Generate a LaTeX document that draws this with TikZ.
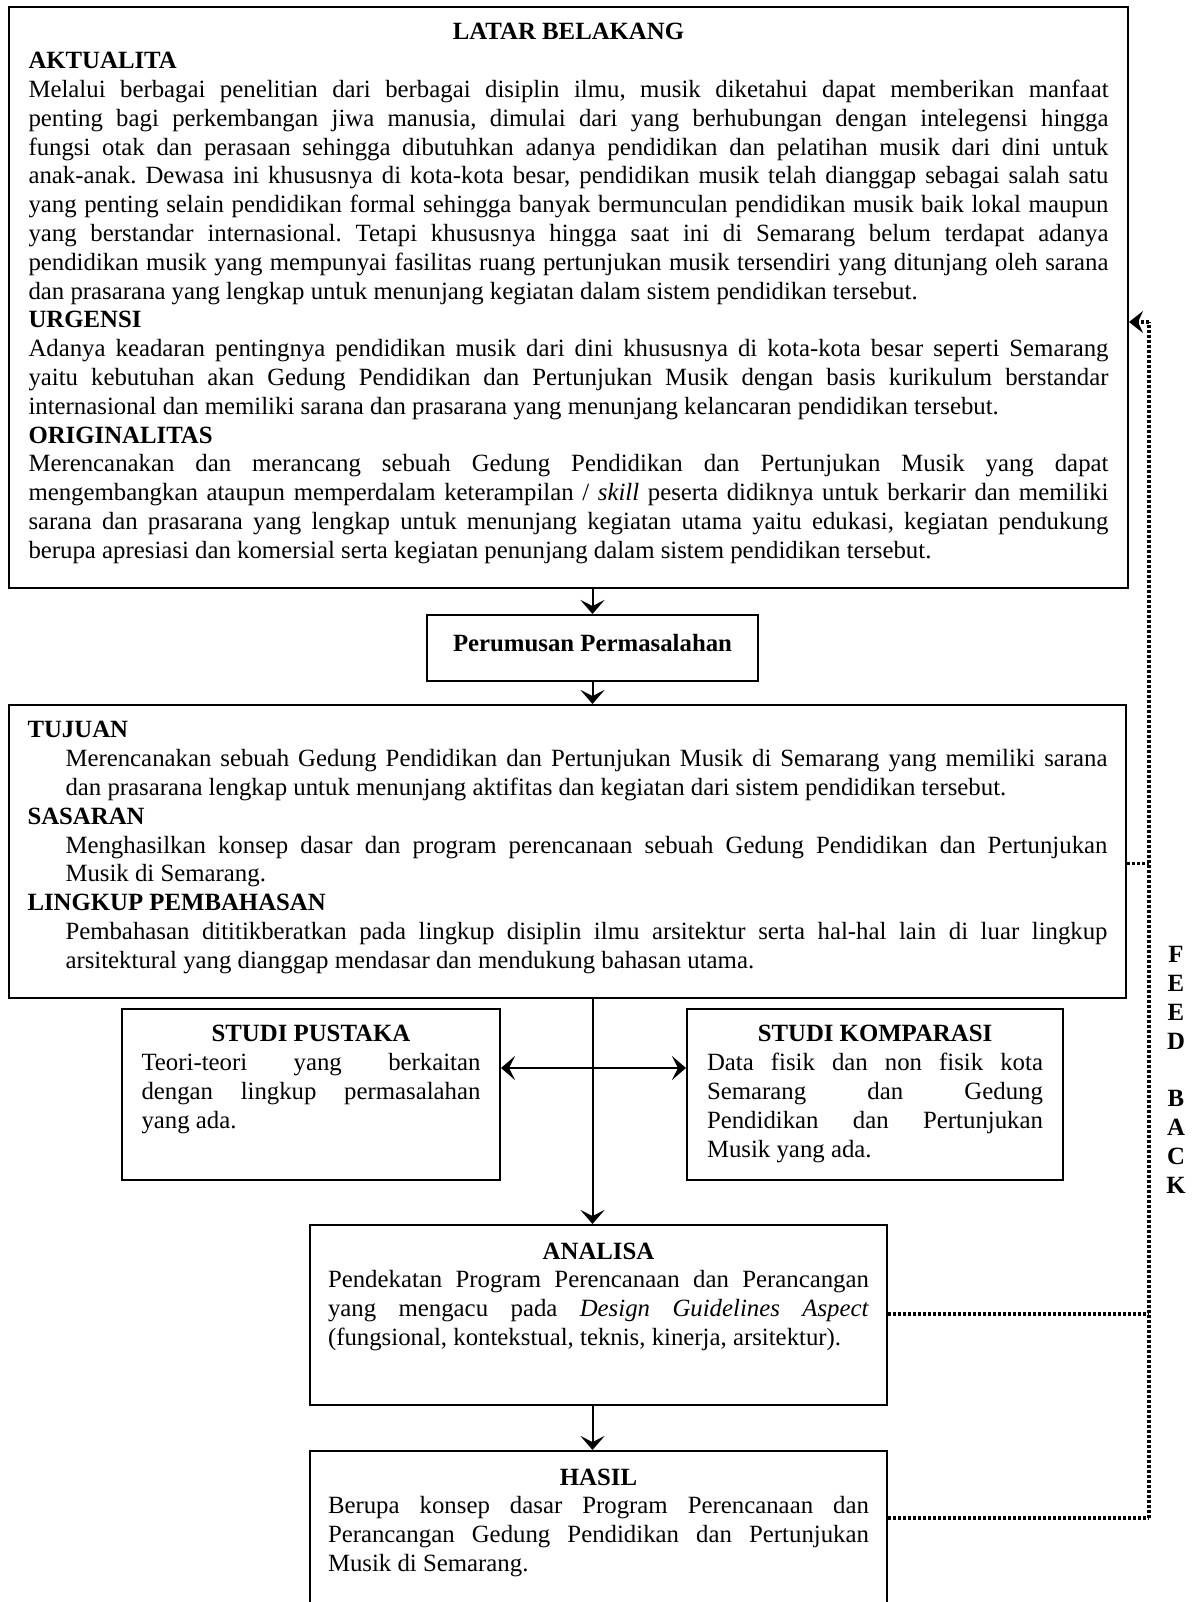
\documentclass[tikz,border=0pt]{standalone}
\usepackage{fontspec}
\setmainfont{Liberation Serif}
\usetikzlibrary{arrows.meta}
\tolerance=10000
\hbadness=10000
\hyphenpenalty=10000
\exhyphenpenalty=10000
\frenchspacing

\begin{document}
\begin{tikzpicture}[x=0.5pt, y=-0.5pt, line width=1pt, font=\fontsize{12.4pt}{14.4pt}\selectfont]
	\tikzstyle{box} = [rectangle, draw, anchor=north west, inner ysep=8.25pt]
	\tikzstyle{tip} = [-{Stealth[length=7pt, width=12pt, inset=3pt]}]
	\tikzstyle{fbline} = [line width=1.6pt, dash pattern=on 1.5pt off 1pt]

	\useasboundingbox (0,0) rectangle (1194,1602);
	\clip (0,0) rectangle (1194,1602);

	\node[box, inner xsep=9.75pt] (latar) at (8,6) {\begin{minipage}[t][274pt][t]{540pt}
		{\centering\textbf{LATAR BELAKANG}\par}
		\textbf{AKTUALITA}\par
		Melalui berbagai penelitian dari berbagai disiplin ilmu, musik diketahui dapat memberikan manfaat\linebreak
		penting bagi perkembangan jiwa manusia, dimulai dari yang berhubungan dengan intelegensi hingga\linebreak
		fungsi otak dan perasaan sehingga dibutuhkan adanya pendidikan dan pelatihan musik dari dini untuk\linebreak
		anak-anak. Dewasa ini khususnya di kota-kota besar, pendidikan musik telah dianggap sebagai salah satu\linebreak
		yang penting selain pendidikan formal sehingga banyak bermunculan pendidikan musik baik lokal maupun\linebreak
		yang berstandar internasional. Tetapi khususnya hingga saat ini di Semarang belum terdapat adanya\linebreak
		pendidikan musik yang mempunyai fasilitas ruang pertunjukan musik tersendiri yang ditunjang oleh sarana\linebreak
		dan prasarana yang lengkap untuk menunjang kegiatan dalam sistem pendidikan tersebut.\par
		\textbf{URGENSI}\par
		Adanya keadaran pentingnya pendidikan musik dari dini khususnya di kota-kota besar seperti Semarang\linebreak
		yaitu kebutuhan akan Gedung Pendidikan dan Pertunjukan Musik dengan basis kurikulum berstandar\linebreak
		internasional dan memiliki sarana dan prasarana yang menunjang kelancaran pendidikan tersebut.\par
		\textbf{ORIGINALITAS}\par
		Merencanakan dan merancang sebuah Gedung Pendidikan dan Pertunjukan Musik yang dapat\linebreak
		mengembangkan ataupun memperdalam keterampilan / \textit{skill} peserta didiknya untuk berkarir dan memiliki\linebreak
		sarana dan prasarana yang lengkap untuk menunjang kegiatan utama yaitu edukasi, kegiatan pendukung\linebreak
		berupa apresiasi dan komersial serta kegiatan penunjang dalam sistem pendidikan tersebut.\par
	\end{minipage}};

	\node[box, inner xsep=10pt, inner ysep=9.5pt] (perumusan) at (426,614) {\begin{minipage}[t][14pt][t]{145.5pt}
		\centering\textbf{Perumusan Permasalahan}
	\end{minipage}};

	\node[box, inner xsep=9.25pt] (tujuan) at (8,704) {\begin{minipage}[t][130pt][t]{540pt}
		\textbf{TUJUAN}\par
		{\leftskip=19pt Merencanakan sebuah Gedung Pendidikan dan Pertunjukan Musik di Semarang yang memiliki sarana\linebreak
		dan prasarana lengkap untuk menunjang aktifitas dan kegiatan dari sistem pendidikan tersebut.\par}
		\textbf{SASARAN}\par
		{\leftskip=19pt Menghasilkan konsep dasar dan program perencanaan sebuah Gedung Pendidikan dan Pertunjukan\linebreak
		Musik di Semarang.\par}
		\textbf{LINGKUP PEMBAHASAN}\par
		{\leftskip=19pt Pembahasan dititikberatkan pada lingkup disiplin ilmu arsitektur serta hal-hal lain di luar lingkup\linebreak
		arsitektural yang dianggap mendasar dan mendukung bahasan utama.\par}
	\end{minipage}};

	\node[box, inner xsep=9.75pt] (pustaka) at (121,1008) {\begin{minipage}[t][69pt][t]{169.5pt}
		{\centering\textbf{STUDI PUSTAKA}\par}
		Teori-teori yang berkaitan\linebreak
		dengan lingkup permasalahan\linebreak
		yang ada.\par
	\end{minipage}};

	\node[box, inner xsep=10pt] (komparasi) at (686,1008) {\begin{minipage}[t][69pt][t]{168pt}
		{\centering\textbf{STUDI KOMPARASI}\par}
		Data fisik dan non fisik kota\linebreak
		Semarang dan Gedung\linebreak
		Pendidikan dan Pertunjukan\linebreak
		Musik yang ada.\par
	\end{minipage}};

	\node[box, inner xsep=9pt, inner ysep=8.8pt] (analisa) at (309,1224) {\begin{minipage}[t][72.4pt][t]{270.5pt}
		{\centering\textbf{ANALISA}\par}
		Pendekatan Program Perencanaan dan Perancangan\linebreak
		yang mengacu pada \textit{Design Guidelines Aspect}\linebreak
		(fungsional, kontekstual, teknis, kinerja, arsitektur).\par
	\end{minipage}};

	\node[box, inner xsep=9pt, inner ysep=8.8pt] (hasil) at (309,1450) {\begin{minipage}[t][72.4pt][t]{270.5pt}
		{\centering\textbf{HASIL}\par}
		Berupa konsep dasar Program Perencanaan dan\linebreak
		Perancangan Gedung Pendidikan dan Pertunjukan\linebreak
		Musik di Semarang.\par
	\end{minipage}};

	\node[font=\fontsize{12.4pt}{14.4pt}\selectfont\bfseries, align=center, inner sep=0pt] (feedback) at (1176,1070) {F\\E\\E\\D\\\mbox{}\\B\\A\\C\\K};

	\draw[tip] (perumusan.north |- latar.south) -- (perumusan.north);
	\draw[tip] (perumusan.south) -- (perumusan.south |- tujuan.north);
	\draw[tip] (perumusan.south |- tujuan.south) -- (perumusan.south |- analisa.north);
	\draw[tip] (perumusan.south |- analisa.south) -- (perumusan.south |- hasil.north);
	\draw[{Stealth[length=7pt, width=12pt, inset=3pt]}-{Stealth[length=7pt, width=12pt, inset=3pt]}] ([yshift=13.25pt]pustaka.east) -- ([yshift=13.25pt]komparasi.west);

	\coordinate (fbtop) at (1149,322);
	\coordinate (fb1) at ([yshift=-6pt]tujuan.east);
	\coordinate (fb2) at ([yshift=0.5pt]analisa.east);
	\coordinate (fb3) at ([yshift=11.5pt]hasil.east);
	\coordinate (fbbot) at (fbtop |- fb3);

	\foreach \p in {fb1, fb2, fb3} {
		\draw[fbline] (\p) -- (\p -| fbtop);
	}
	\draw[fbline] (fbbot) -- (fbtop);
	\draw[fbline, -{Stealth[length=7pt, width=11pt, inset=2.5pt]}] (fbtop) -- (fbtop -| latar.east);
\end{tikzpicture}
\end{document}
